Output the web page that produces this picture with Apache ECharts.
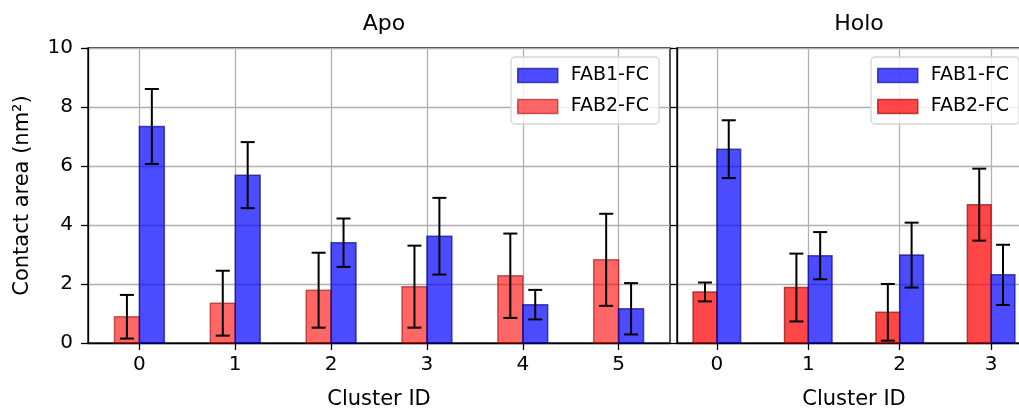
<!DOCTYPE html>
<html>
<head>
<meta charset="utf-8">
<title>Contact area per cluster</title>
<script src="https://cdn.jsdelivr.net/npm/echarts@6/dist/echarts.min.js"></script>
<style>
  html, body { margin: 0; padding: 0; background: #ffffff; }
  #chart { width: 1019px; height: 411px; }
</style>
</head>
<body>
<div id="chart"></div>
<script>
// ---- data -------------------------------------------------------------
const apoClusters = [0, 1, 2, 3, 4, 5];
const apoFab1 = [7.34, 5.69, 3.40, 3.62, 1.30, 1.16];
const apoFab1Err = [1.27, 1.12, 0.82, 1.30, 0.50, 0.87];
const apoFab2 = [0.89, 1.35, 1.79, 1.91, 2.28, 2.82];
const apoFab2Err = [0.74, 1.10, 1.27, 1.39, 1.43, 1.56];

const holoClusters = [0, 1, 2, 3];
const holoFab1 = [6.57, 2.96, 2.98, 2.31];
const holoFab1Err = [0.98, 0.80, 1.10, 1.02];
const holoFab2 = [1.73, 1.88, 1.04, 4.69];
const holoFab2Err = [0.32, 1.15, 0.96, 1.22];

const yTicks = [0, 2, 4, 6, 8, 10];
const panelTitles = ['Apo', 'Holo'];
const seriesNames = ['FAB1-FC', 'FAB2-FC'];

// ---- styling ----------------------------------------------------------
const FONT = 'DejaVu Sans';
const BAR_W = 0.26;          // bar width in cluster units
const CAP = 7;               // half-width of error bar caps (px)
const BLUE = { fill: 'rgba(0,0,255,0.70)', edge: 'rgba(0,0,140,0.65)' };
const RED_APO = { fill: 'rgba(255,0,0,0.60)', edge: 'rgba(150,0,0,0.55)' };
const RED_HOLO = { fill: 'rgba(255,0,0,0.72)', edge: 'rgba(140,0,0,0.65)' };

function rows(xs, vals, errs) {
  return xs.map((x, i) => [x, vals[i], errs[i]]);
}

// bar + symmetric error bar drawn through the axis scales
function makeRender(offset, style) {
  return function (params, api) {
    const x = api.value(0), v = api.value(1), e = api.value(2);
    const tl = api.coord([x + offset - BAR_W / 2, v]);
    const br = api.coord([x + offset + BAR_W / 2, 0]);
    const cx = api.coord([x + offset, 0])[0];
    const yTop = api.coord([x + offset, v + e])[1];
    const yBot = api.coord([x + offset, v - e])[1];
    const err = { stroke: '#000', lineWidth: 2 };
    return {
      type: 'group',
      children: [
        { type: 'rect', z2: 1,
          shape: { x: tl[0], y: tl[1], width: br[0] - tl[0], height: br[1] - tl[1] },
          style: { fill: style.fill, stroke: style.edge, lineWidth: 1.5 } },
        { type: 'line', z2: 5, shape: { x1: cx, y1: yTop, x2: cx, y2: yBot }, style: err },
        { type: 'line', z2: 5, shape: { x1: cx - CAP, y1: yTop, x2: cx + CAP, y2: yTop }, style: err },
        { type: 'line', z2: 5, shape: { x1: cx - CAP, y1: yBot, x2: cx + CAP, y2: yBot }, style: err }
      ]
    };
  };
}

function xAxisFor(gridIndex, clusters) {
  const span = clusters.length - 1 + 2 * BAR_W;
  const lo = -BAR_W - 0.05 * span;
  const hi = clusters.length - 1 + BAR_W + 0.05 * span;
  return {
    type: 'value', gridIndex, min: lo, max: hi,
    name: 'Cluster ID', nameLocation: 'middle', nameGap: 46,
    nameTextStyle: { fontFamily: FONT, fontSize: 21, color: '#000' },
    axisLine: { show: true, onZero: false, lineStyle: { color: '#000', width: 1.3 } },
    axisTick: { show: true, length: 7, inside: false, customValues: clusters,
                lineStyle: { color: '#000', width: 1.3 } },
    axisLabel: { customValues: clusters, margin: 12, fontFamily: FONT, fontSize: 20, color: '#000',
                 formatter: v => String(v) },
    splitLine: { show: true, lineStyle: { color: '#b0b0b0', width: 1.3 } }
  };
}

function yAxisFor(gridIndex, showLabels) {
  return {
    type: 'value', gridIndex, min: 0, max: 10, interval: 2,
    name: showLabels ? 'Contact area (nm²)' : '',
    nameLocation: 'middle', nameRotate: 90, nameGap: 55,
    nameTextStyle: { fontFamily: FONT, fontSize: 21, color: '#000' },
    axisLine: { show: true, onZero: false, lineStyle: { color: '#000', width: 1.3 } },
    axisTick: { show: true, length: 7, inside: false, lineStyle: { color: '#000', width: 1.3 } },
    axisLabel: { show: showLabels, margin: 15, fontFamily: FONT, fontSize: 20, color: '#000',
                 customValues: yTicks },
    splitLine: { show: true, lineStyle: { color: '#b0b0b0', width: 1.3 } }
  };
}

function legendFor(left, top, fab2Style) {
  const items = [BLUE, fab2Style];
  return {
    orient: 'vertical', left, top,
    padding: [9, 10, 8, 6], itemGap: 12,
    itemWidth: 40, itemHeight: 14,
    backgroundColor: 'rgba(255,255,255,0.8)',
    borderColor: '#d6d6d6', borderWidth: 1.3, borderRadius: 4,
    selectedMode: false,
    textStyle: { fontFamily: FONT, fontSize: 19, color: '#000', padding: [0, 0, 0, 8] },
    data: seriesNames.map((n, i) => ({
      name: n, icon: 'rect',
      itemStyle: { color: items[i].fill, borderColor: items[i].edge, borderWidth: 1.5 }
    }))
  };
}

const gridBase = {
  top: 48, height: 295, show: true, borderColor: '#000', borderWidth: 1.3,
  backgroundColor: 'transparent', containLabel: false, outerBoundsMode: 'none'
};

const option = {
  backgroundColor: '#ffffff',
  animation: false,
  textStyle: { fontFamily: FONT },
  title: [
    { text: panelTitles[0], left: 379, top: 8, textAlign: 'center',
      textStyle: { fontFamily: FONT, fontSize: 22, fontWeight: 'normal', color: '#000' } },
    { text: panelTitles[1], left: 854, top: 8, textAlign: 'center',
      textStyle: { fontFamily: FONT, fontSize: 22, fontWeight: 'normal', color: '#000' } }
  ],
  grid: [
    Object.assign({}, gridBase, { left: 88, width: 582 }),
    Object.assign({}, gridBase, { left: 677, width: 354 })
  ],
  xAxis: [xAxisFor(0, apoClusters), xAxisFor(1, holoClusters)],
  yAxis: [yAxisFor(0, true), yAxisFor(1, false)],
  legend: [legendFor(511, 57, RED_APO), legendFor(871, 57, RED_HOLO)],
  series: [
    { type: 'custom', name: seriesNames[1], xAxisIndex: 0, yAxisIndex: 0,
      data: rows(apoClusters, apoFab2, apoFab2Err), encode: { x: 0, y: 1 },
      renderItem: makeRender(-BAR_W / 2, RED_APO), itemStyle: { color: RED_APO.fill } },
    { type: 'custom', name: seriesNames[0], xAxisIndex: 0, yAxisIndex: 0,
      data: rows(apoClusters, apoFab1, apoFab1Err), encode: { x: 0, y: 1 },
      renderItem: makeRender(BAR_W / 2, BLUE), itemStyle: { color: BLUE.fill } },
    { type: 'custom', name: seriesNames[1], xAxisIndex: 1, yAxisIndex: 1,
      data: rows(holoClusters, holoFab2, holoFab2Err), encode: { x: 0, y: 1 },
      renderItem: makeRender(-BAR_W / 2, RED_HOLO), itemStyle: { color: RED_HOLO.fill } },
    { type: 'custom', name: seriesNames[0], xAxisIndex: 1, yAxisIndex: 1,
      data: rows(holoClusters, holoFab1, holoFab1Err), encode: { x: 0, y: 1 },
      renderItem: makeRender(BAR_W / 2, BLUE), itemStyle: { color: BLUE.fill } }
  ]
};

const chart = echarts.init(document.getElementById('chart'), null, { renderer: 'canvas' });
chart.setOption(option);
</script>
</body>
</html>
